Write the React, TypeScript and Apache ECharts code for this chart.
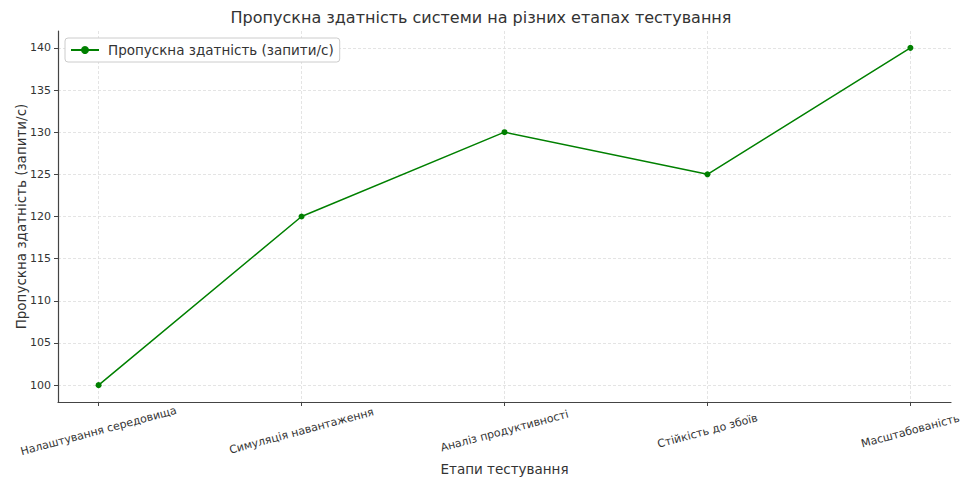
import React, { useEffect, useRef } from "react";
import * as echarts from "echarts";

const stages = [
  "Налаштування середовища",
  "Симуляція навантаження",
  "Аналіз продуктивності",
  "Стійкість до збоїв",
  "Масштабованість",
];
const throughput = [100, 120, 130, 125, 140];
const yTicks = [100, 105, 110, 115, 120, 125, 130, 135, 140];
const xTicks = [0, 1, 2, 3, 4];

const FONT = "DejaVu Sans";
const TEXT = "#333333";
const SPINE = "#444444";

export default function App() {
  const ref = useRef<HTMLDivElement>(null);

  useEffect(() => {
    if (!ref.current) return;
    const chart = echarts.init(ref.current, undefined, { renderer: "svg" });
    chart.setOption({
      animation: false,
      backgroundColor: "#ffffff",
      textStyle: { fontFamily: FONT, color: TEXT },
      title: {
        text: "Пропускна здатність системи на різних етапах тестування",
        left: "center",
        top: 4,
        textStyle: { fontFamily: FONT, fontSize: 16, fontWeight: "normal", color: TEXT },
      },
      legend: {
        left: 65,
        top: 38,
        padding: [5, 6, 5, 5],
        itemWidth: 28,
        itemHeight: 10,
        itemGap: 8,
        borderColor: "#cccccc",
        borderWidth: 1,
        borderRadius: 3,
        backgroundColor: "#ffffff",
        textStyle: { fontFamily: FONT, fontSize: 13.5, color: TEXT, padding: [0, 0, 0, 4] },
        data: ["Пропускна здатність (запити/с)"],
      },
      grid: {
        left: 58,
        right: 11,
        top: 31,
        bottom: 77,
        containLabel: false,
        outerBoundsMode: "none",
      },
      xAxis: {
        type: "value",
        min: -0.2,
        max: 4.2,
        name: "Етапи тестування",
        nameLocation: "middle",
        nameGap: 60,
        nameMoveOverlap: false,
        nameTextStyle: { fontFamily: FONT, fontSize: 13.5, color: TEXT },
        axisLine: { show: true, onZero: false, lineStyle: { color: SPINE, width: 1.2 } },
        axisTick: {
          show: true,
          customValues: xTicks,
          length: 4,
          inside: false,
          lineStyle: { color: SPINE },
        },
        axisLabel: {
          customValues: xTicks,
          formatter: (v: number) => stages[Math.round(v)] ?? "",
          rotate: 15,
          align: "center",
          verticalAlign: "middle",
          margin: 29,
          fontFamily: FONT,
          fontSize: 11,
          color: TEXT,
        },
        splitLine: {
          show: true,
          lineStyle: { color: "#dddddd", type: [3, 2], width: 0.8 },
        },
      },
      yAxis: {
        type: "value",
        min: 98,
        max: 142,
        name: "Пропускна здатність (запити/с)",
        nameLocation: "middle",
        nameGap: 30,
        nameMoveOverlap: false,
        nameTextStyle: { fontFamily: FONT, fontSize: 13.5, color: TEXT },
        axisLine: { show: true, onZero: false, lineStyle: { color: SPINE, width: 1.2 } },
        axisTick: {
          show: true,
          customValues: yTicks,
          length: 4,
          lineStyle: { color: SPINE },
        },
        axisLabel: {
          customValues: yTicks,
          margin: 7,
          fontFamily: FONT,
          fontSize: 11,
          color: TEXT,
        },
        splitLine: {
          show: true,
          lineStyle: { color: "#dddddd", type: [3, 2], width: 0.8 },
        },
      },
      series: [
        {
          name: "Пропускна здатність (запити/с)",
          type: "line",
          data: throughput.map((v, i) => [i, v]),
          symbol: "circle",
          symbolSize: 6,
          itemStyle: { color: "#008000" },
          lineStyle: { color: "#008000", width: 1.5 },
        },
      ],
    });
    return () => chart.dispose();
  }, []);

  return (
    <div
      ref={ref}
      style={{ position: "absolute", left: 0, top: 0, width: 962, height: 479 }}
    />
  );
}
